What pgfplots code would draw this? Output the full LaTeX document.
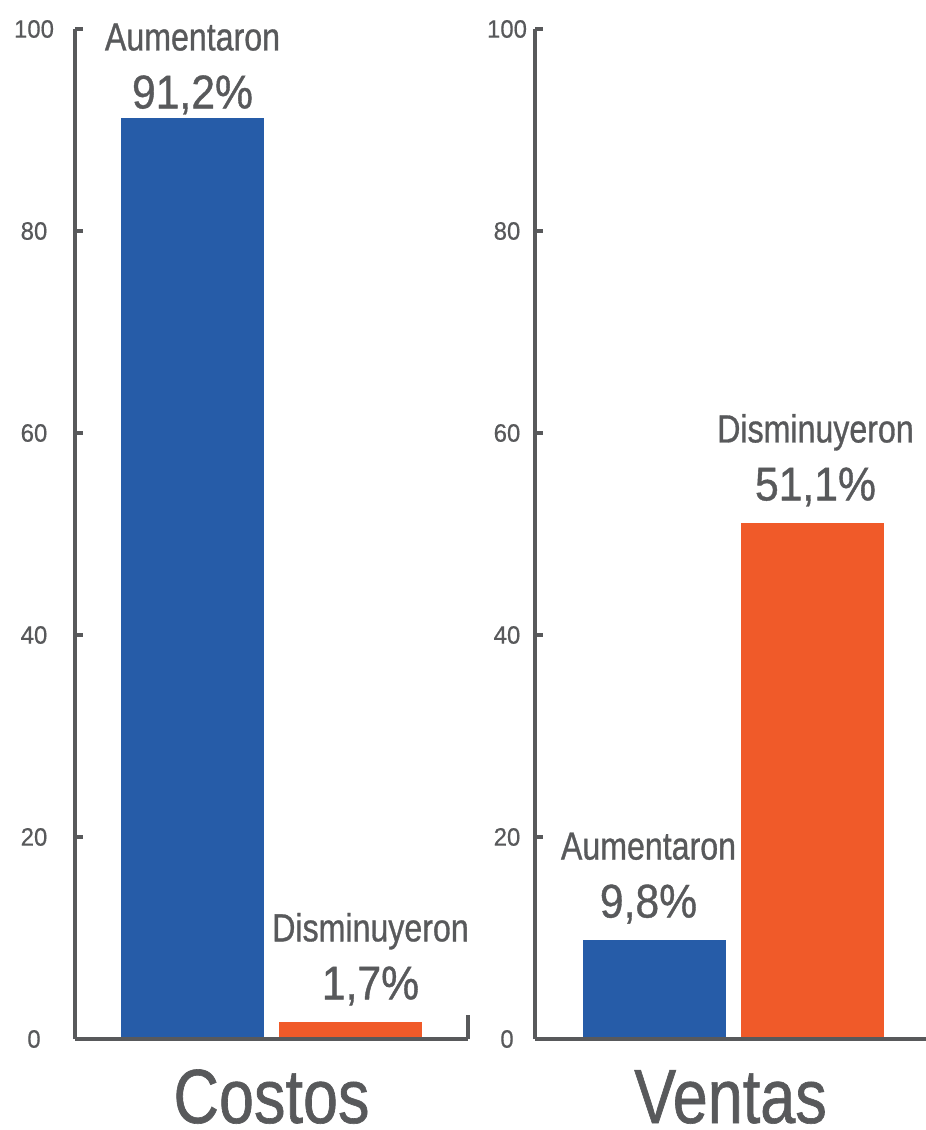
\documentclass[border=0pt]{standalone}
\usepackage{fontspec}
\setmainfont{Liberation Sans}[FakeBold=0.5]
\newfontfamily\tickfont{Liberation Sans}[FakeStretch=0.95, FakeBold=0.5]
\newfontfamily\condfont{Liberation Sans}[FakeStretch=0.82, FakeBold=0.8]
\newfontfamily\pctfont{Liberation Sans}[FakeStretch=0.9, FakeBold=0.8]
\usepackage{pgfplots}
\pgfplotsset{compat=1.18}

\definecolor{barblue}{HTML}{265CA8}
\definecolor{barorange}{HTML}{F05A29}
\definecolor{txtgray}{HTML}{58595B}

% two-line label: category word over the percentage
\newcommand\barlabel[2]{{\renewcommand\arraystretch{0}%
  \begin{tabular}{@{}c@{}}
  \condfont\fontsize{19.6}{20}\selectfont #1\rule[-6.5pt]{0pt}{5pt}\\
  \pctfont\fontsize{23.7}{24}\selectfont #2\rule[-3pt]{0pt}{25.5pt}
  \end{tabular}}}
\newcommand\pct{\pgfmathprintnumber[fixed,fixed zerofill,precision=1,use comma,assume math mode=true]{\pgfplotspointmeta}\%}

\pgfplotsset{
  panel/.style={
    scale only axis, height=505pt,
    ymin=0, ymax=100,
    axis x line*=bottom, axis y line*=left,
    axis line style={txtgray, line width=1.6pt, -},
    ytick={0,20,...,100}, xtick=\empty,
    tick style={txtgray, line width=1.6pt},
    tick align=inside, major tick length=4pt,
    /pgf/number format/assume math mode=true,
    yticklabel style={font=\tickfont\fontsize{12.6}{13}\selectfont, text=txtgray, anchor=center},
    ybar, bar shift=0pt, bar width=0.905,
    axis on top, clip=false,
    every node near coord/.append style={inner sep=0pt, anchor=south, yshift=8pt, text=txtgray},
    xlabel style={at={(axis description cs:0.5,0)}, anchor=base, yshift=-42pt, inner sep=0pt,
      font=\condfont\fontsize{38.4}{40}\selectfont, text=txtgray},
  },
}

\begin{document}
\begin{tikzpicture}
\useasboundingbox (-37.5pt,-45.5pt) rectangle (425.5pt,519.5pt);

\begin{axis}[panel, at={(0pt,0pt)}, anchor=south west,
  width=196.5pt, xmin=0.2563, xmax=2.7437,
  yticklabel style={xshift=-20.5pt},
  extra x ticks={2.7437}, extra x tick labels={},
  extra x tick style={major tick length=12pt, tick align=inside},
  xlabel={Costos}]
\addplot[fill=barblue, draw=none,
  nodes near coords={\barlabel{Aumentaron}{\pct}},
  every node near coord/.append style={yshift=-6.5pt}]
  coordinates {(1,91.2)};
\addplot[fill=barorange, draw=none,
  nodes near coords={\barlabel{Disminuyeron}{\pct}},
  every node near coord/.append style={xshift=10pt}]
  coordinates {(2,1.7)};
\end{axis}

\begin{axis}[panel, at={(230pt,0pt)}, anchor=south west,
  width=195.5pt, xmin=0.2437, xmax=2.7184,
  yticklabel style={xshift=-14pt},
  xlabel={Ventas}]
\addplot[fill=barblue, draw=none,
  nodes near coords={\barlabel{Aumentaron}{\pct}},
  every node near coord/.append style={xshift=-3pt}]
  coordinates {(1,9.8)};
\addplot[fill=barorange, draw=none,
  nodes near coords={\barlabel{Disminuyeron}{\pct}},
  every node near coord/.append style={xshift=1.5pt}]
  coordinates {(2,51.1)};
\end{axis}
\end{tikzpicture}
\end{document}
